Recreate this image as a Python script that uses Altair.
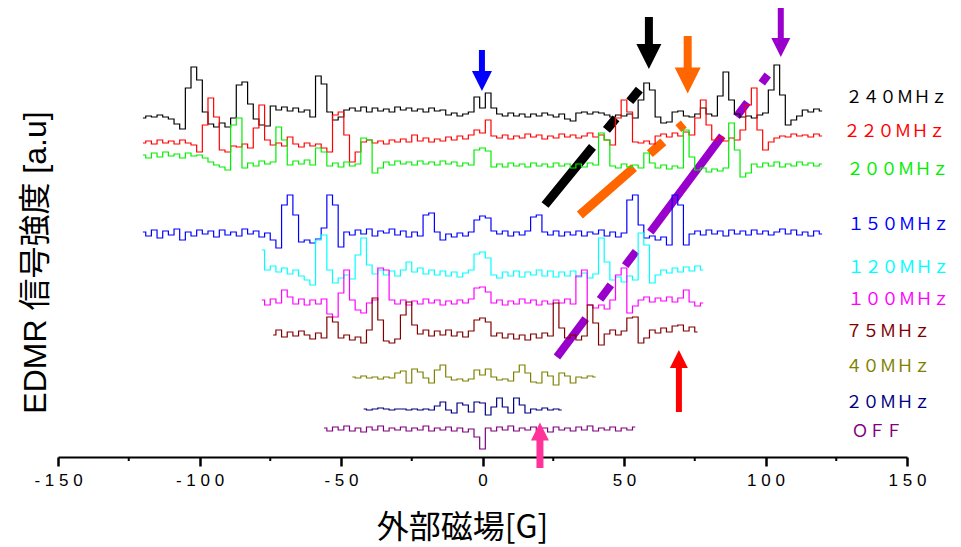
import altair as alt
import pandas as pd

# ---- series meta -------------------------------------------------------
names = ["240MHz", "220MHz", "200MHz", "150MHz", "120MHz", "100MHz", "75MHz", "40MHz", "20MHz", "OFF"]
labels = ["２４０ＭＨｚ", "２２０ＭＨｚ", "２００ＭＨｚ", "１５０ＭＨｚ", "１２０ＭＨｚ",
          "１００ＭＨｚ", "７５ＭＨｚ", "４０ＭＨｚ", "２０ＭＨｚ", "ＯＦＦ"]
colors = ["#000000", "#ff0000", "#00ee00", "#0000ff", "#00ffff",
          "#ff00ff", "#800000", "#808000", "#000080", "#800080"]
starts = [-120, -120, -120, -120, -78, -78, -74, -46, -42, -56]   # field of first point [G]
STEP = 2                                                          # field step [G]
offsets = [344, 315, 294, 224, 185, 155, 124, 79, 48, 28]          # vertical offset of each trace [a.u.]

# ---- signals (a.u. relative to each offset) ------------------------------
sig_240 = [-5, -3, -4, -2, -4, -6, -11, -16, 25, 46,
           33, 1, -11, -14, -10, -14, -5, 28, 31, 9,
           -6, -12, -13, 7, 3, 6, 2, 5, 1, 3,
           -4, 37, 29, 1, -7, -4, 3, 5, 2, 6,
           1, 5, 2, 4, 1, 6, 3, 5, 2, 4,
           1, 5, 2, 3, -2, 0, -3, -1, 1, 16,
           5, 20, 5, -1, -3, 0, -3, -1, -4, -1,
           -3, 0, -2, -4, -1, -6, -8, 0, 1, -1,
           1, 0, -2, -4, -2, -3, -1, -5, 13, 30,
           23, -4, -10, -9, 1, 2, -3, -4, -1, 5,
           -1, -3, 17, 41, 13, -1, -4, -3, -5, -2,
           0, 23, 48, 18, -12, -7, -3, 3, 1, 4,
           2]
sig_220 = [-1, 1, -2, 2, -1, 1, -2, 2, -1, -3,
           -10, 17, 44, 25, -8, -10, -4, -5, -2, -6,
           14, 37, 2, -3, -1, -4, 5, -2, -5, -1,
           -4, -2, -6, -10, 27, 30, 7, -20, -10, 0,
           2, -1, 1, -2, 2, 0, 3, 0, 7, 1,
           4, 0, 3, 1, 5, 2, 6, 3, 7, 12,
           9, 22, 6, 4, 7, 3, 6, 4, 8, 5,
           7, 3, 6, 4, 8, 5, 7, 4, 6, 9,
           5, 7, 2, -3, 24, 42, 30, 0, -1, 1,
           -2, 6, 8, 5, 9, 6, 10, 7, 24, 42,
           17, 2, 5, 1, 4, 2, 12, 37, 54, 12,
           -8, 0, 4, 6, 5, 8, 6, 7, 5, 8,
           6]
sig_200 = [8, 5, 10, 6, 11, 7, 9, 5, 10, 7,
           8, 5, 1, -2, -4, -7, 38, 45, -5, 0,
           -3, 2, -1, 1, 36, 23, -2, 2, -1, 3,
           -2, 15, 11, -3, 0, -4, 1, -3, -1, 25,
           23, -10, -5, 1, -2, 2, -1, 1, -2, 2,
           -1, 1, -2, 2, -1, 1, -3, 0, -2, 13,
           15, 12, -4, -1, -4, 0, -3, -1, -4, 0,
           -3, -1, -4, 0, -3, -1, -5, -1, -4, 0,
           -2, 30, 23, -3, -5, -1, -4, -2, -5, 10,
           0, -5, -2, -6, -3, -5, 33, 6, -7, -5,
           -9, -6, -8, -5, 40, 13, -14, -10, -1, -4,
           0, -3, 1, -4, -1, -3, 1, -2, 0, -3,
           -1]
sig_150 = [1, -3, 3, -5, 2, -2, 4, -7, 1, -3,
           3, -1, 2, -4, 3, -2, 1, -3, 4, -1,
           2, -4, 0, -7, -15, 28, 38, 18, -9, -7,
           -10, -6, 5, 38, 28, -14, 1, -2, 3, -1,
           4, -3, 2, 0, 4, -2, 2, -4, 1, -3,
           18, 20, 1, -7, -1, -4, 0, -3, 1, 13,
           17, 15, 2, -1, 2, -3, 1, -2, 2, 16,
           18, 1, -2, 2, -3, 1, -2, 2, -3, 1,
           -1, 3, -3, 1, -4, 0, 33, 38, 8, -5,
           -3, -7, -4, -12, 38, 28, -12, -1, 2, -2,
           3, -1, 2, -3, 3, -1, 2, -2, 3, -1,
           2, -2, 1, 4, -1, 3, -2, 1, -3, 2,
           -1]
sig_120 = [22, 2, 6, 0, 4, -2, 2, -4, -8, -13,
           32, 37, 2, -11, -6, -3, -7, 17, 34, 7,
           -2, 2, -3, 1, -4, 2, 10, 0, 4, -2,
           2, -3, 1, -4, 0, -5, -1, 2, 18, 20,
           14, -3, -6, 0, -4, 1, -5, 0, -3, 2,
           -4, 1, -5, 0, -4, 1, -5, -1, -6, -2,
           34, 10, -8, -5, -10, -4, -8, 39, 27, -11,
           -3, 2, -1, 4, 0, 5, 1, 6, 2]
sig_100 = [2, -3, 3, -1, 12, 5, -2, 3, -3, 2,
           -2, 3, -12, -15, 9, 32, 2, -8, -11, -1,
           2, 34, 32, 2, -2, 2, -3, 1, -2, 3,
           -1, 2, -3, 1, -2, 2, -1, 3, 14, 15,
           10, -1, 2, -3, 1, -2, 3, -1, 2, -3,
           1, -2, 2, -1, 3, -2, 26, 32, -3, -6,
           -3, -7, 2, 27, 34, -11, -4, 2, 5, 0,
           4, 1, 5, 0, 4, 12, 0, -4, -1]
sig_75 = [-2, 3, -4, 1, -3, 2, -2, -6, 0, -5,
          16, 11, -5, -2, -7, -4, -10, 3, 35, 13,
          -8, -10, -6, 18, 31, 8, -1, 3, -3, 2,
          -2, 3, -3, 1, -4, 2, 13, 15, 11, -3,
          0, -5, -1, -6, -2, -7, -1, -5, 0, -3,
          30, 5, -5, -2, -7, -3, 28, 10, -12, -1,
          3, -2, 2, 15, 16, -10, -5, 3, 0, 5,
          1, 7, 8, 2, 6, 1]
sig_40 = [1, 0, 2, 0, 1, -1, 1, 0, 5, 7,
          -5, 9, 6, 0, -5, 8, 13, 1, -2, -1,
          -3, -1, 8, 3, 9, 1, -2, -1, -3, 6,
          13, 5, -4, -5, 6, 2, -7, 5, 2, -5,
          1, 0, 2, 1]
sig_20 = [0, -1, 0, 1, 0, -1, 0, 0, -1, 0,
          -1, 0, -1, 3, 7, -1, -4, 6, 4, -3,
          7, 6, -6, 2, 11, 2, -4, 11, 4, -4,
          0, -1, 1, -1, 0, -1]
sig_off = [1, -2, 2, -1, 3, -2, 1, -3, 2, -1,
           3, -2, 1, -1, 2, -2, 1, -1, 3, -2,
           1, -1, 2, -2, 1, -3, 0, -8, -20, 1,
           -2, 2, -1, 3, -2, 1, -1, 2, -2, 1,
           -3, 2, -1, 1, -2, 2, -1, 3, -2, 1,
           -1, 2, -2, 1, -1, 2]
signals = [sig_240, sig_220, sig_200, sig_150, sig_120, sig_100, sig_75, sig_40, sig_20, sig_off]

# ---- series labels on the right ------------------------------------------
label_x = [128.3, 127.6, 128.6, 129.0, 129.0, 129.0, 128.3, 128.3, 128.3, 130.4]
label_y = [359, 325, 287, 232, 189, 157, 125, 90, 54, 25]

# ---- arrows --------------------------------------------------------------
arrow_x = [-0.2, 58.8, 72.5, 105.4, 69.4, 20.3]
arrow_tail = [407, 440, 421, 450, 45, -11]
arrow_neck = [383, 412, 387, 417, 91, 17]
arrow_head_y = [376, 400.5, 376.5, 409.5, 98, 25.5]
arrow_head_w = [20, 25, 26, 19, 18, 18]
arrow_shaft_w = [6, 8, 8, 6, 6, 7]
arrow_dir = ["down", "down", "down", "down", "up", "up"]
arrow_color = ["#0000ff", "#000000", "#ff6600", "#9900cc", "#ff0000", "#ff3399"]

# ---- dashed guide lines ----------------------------------------------------
black_dash_x, black_dash_y = [22.1, 55.9], [252, 369]
orange_dash_x, orange_dash_y = [34.4, 71.1], [242, 333]
purple_dash_x, purple_dash_y = [26.3, 100.8], [100, 382]

x_ticks = [-150, -100, -50, 0, 50, 100, 150]
minor_ticks = [-125, -75, -25, 25, 75, 125]

# ---- tables ------------------------------------------------------------------
rows = []
for name, st, off, sig in zip(names, starts, offsets, signals):
    for i, v in enumerate(sig):
        rows.append({"series": name, "x": st + STEP * i, "y": off + v, "i": i})
traces = pd.DataFrame(rows)

lab_df = pd.DataFrame({"x": label_x, "y": label_y, "text": labels, "color": colors})

head_path = {"down": "M-1,-1L1,-1L0,1Z", "up": "M-1,1L1,1L0,-1Z"}
arr_df = pd.DataFrame({
    "x": arrow_x, "y": arrow_tail, "y2": arrow_neck, "hy": arrow_head_y,
    "size": [w * w for w in arrow_head_w], "w": arrow_shaft_w,
    "shape": [head_path[d] for d in arrow_dir], "color": arrow_color,
})
minor_df = pd.DataFrame({"x": minor_ticks, "y": [0] * len(minor_ticks), "y2": [-4] * len(minor_ticks)})

X = alt.X("x:Q",
          scale=alt.Scale(domain=[-150, 150], nice=False, zero=False),
          axis=alt.Axis(values=x_ticks,
                        labelExpr="join(split(toString(datum.value), ''), ' ')",
                        labelFont="Liberation Sans", labelFontSize=17, labelColor="black",
                        labelPadding=6, labelOverlap=False, labelFlush=False,
                        tickSize=9, tickWidth=2.5, tickColor="black",
                        domainColor="black", domainWidth=2, grid=False,
                        title="外部磁場[G]", titleFont="Noto Sans CJK JP", titleFontSize=32,
                        titleFontWeight="normal", titleColor="black",
                        titleX=404, titleY=70, titleAlign="center", titleBaseline="middle"))

Y_SCALE = alt.Scale(domain=[0, 449], nice=False, zero=False)
Y_AXIS = alt.Axis(title="EDMR 信号強度 [a.u]", labels=False, ticks=False, domain=False,
                  grid=False, titleFont="Liberation Sans, Noto Sans CJK JP",
                  titleFontSize=32, titleFontWeight="normal", titleColor="black",
                  titleAngle=270, titleX=-23, titleY=254,
                  titleAlign="center", titleBaseline="middle")


def ych(field):
    return alt.Y(field, type="quantitative", scale=Y_SCALE, axis=Y_AXIS)


def dash_layer(xs, ys, color, dash, offset=0, width=9):
    d = pd.DataFrame({"x": xs, "y": ys, "i": list(range(len(xs)))})
    return alt.Chart(d).mark_line(color=color, strokeWidth=width, strokeDash=dash,
                                  strokeDashOffset=offset, strokeCap="butt", clip=False).encode(
        x=X, y=ych("y"), order="i:Q")


black_dash = dash_layer(black_dash_x, black_dash_y, "#000000", [75, 22, 15, 22, 15, 22])
orange_dash = dash_layer(orange_dash_x, orange_dash_y, "#ff6600", [72, 21, 18, 20, 18, 20])
purple_dash = dash_layer(purple_dash_x, purple_dash_y, "#9900cc", [120, 24, 18, 24, 18, 24], 72, 8)

lines = alt.Chart(traces).mark_line(interpolate="step", strokeWidth=1.2, clip=False).encode(
    x=X, y=ych("y"),
    color=alt.Color("series:N", scale=alt.Scale(domain=names, range=colors), legend=None),
    detail="series:N", order="i:Q")

shafts = alt.Chart(arr_df).mark_rule(strokeCap="butt").encode(
    x=X, y=ych("y"), y2="y2:Q",
    stroke=alt.Stroke("color:N", scale=None),
    strokeWidth=alt.StrokeWidth("w:Q", scale=None))

heads = alt.Chart(arr_df).mark_point(filled=True, opacity=1, strokeWidth=0).encode(
    x=X, y=ych("hy"),
    shape=alt.Shape("shape:N", scale=None),
    size=alt.Size("size:Q", scale=None),
    fill=alt.Fill("color:N", scale=None))

minor = alt.Chart(minor_df).mark_rule(color="black", strokeWidth=2).encode(
    x=X, y=ych("y"), y2="y2:Q")

texts = alt.Chart(lab_df).mark_text(align="left", baseline="middle",
                                    font="Noto Sans CJK JP", fontSize=17).encode(
    x=X, y=ych("y"), text="text:N", fill=alt.Fill("color:N", scale=None))

chart = alt.layer(black_dash, orange_dash, purple_dash, lines, shafts, heads, minor, texts).properties(
    width=849, height=449,
    autosize=alt.AutoSizeParams(type="none"),
    padding={"left": 50, "top": 0, "right": 46, "bottom": 90},
).configure_view(stroke=None)

chart.save("out.html", embed_options={"renderer": "svg", "actions": False})
